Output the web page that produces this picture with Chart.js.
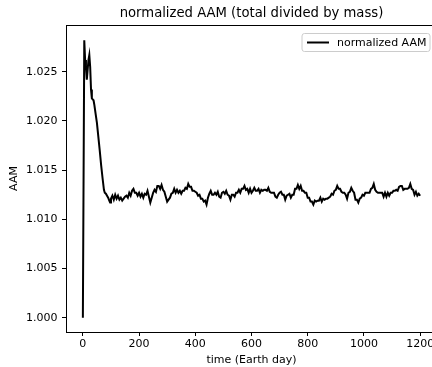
<!DOCTYPE html>
<html><head><meta charset="utf-8">
<script src="https://cdn.jsdelivr.net/npm/chart.js@4"></script>
<style>html,body{margin:0;padding:0;overflow:hidden;background:#fff;width:432px;height:367px}</style>
</head><body>
<canvas id="c" width="440" height="367" style="display:block;width:440px;height:367px"></canvas>
<script>
const chartTitle = 'normalized AAM (total divided by mass)';
const seriesLabel = 'normalized AAM';
const xAxisLabel = 'time (Earth day)';
const yAxisLabel = 'AAM';
const xTickValues = [0, 200, 400, 600, 800, 1000, 1200];
const yTickValues = [1.000, 1.005, 1.010, 1.015, 1.020, 1.025];

const days = [0,5,8,11,14,17,20,23,26,29,32,35,38,41,45,50,55,60,65,70,75,78,82,86,90,94,97,100,
105,110,115,120,125,130,135,140,145,150,155,160,165,170,175,180,185,190,195,200,
205,210,215,220,225,230,235,240,245,250,255,260,265,270,275,280,285,290,295,300,
305,310,315,320,325,330,335,340,345,350,355,360,365,370,375,380,385,390,395,400,
405,410,415,420,425,430,435,440,445,450,455,460,465,470,475,480,485,490,495,500,
505,510,515,520,525,530,535,540,545,550,555,560,565,570,575,580,585,590,595,600,
605,610,615,620,625,630,635,640,645,650,655,660,665,670,675,680,685,690,695,700,
705,710,715,720,725,730,735,740,745,750,755,760,765,770,775,780,785,790,795,800,
805,810,815,820,825,830,835,840,845,850,855,860,865,870,875,880,885,890,895,900,
905,910,915,920,925,930,935,940,945,950,955,960,965,970,975,980,985,990,995,1000,
1005,1010,1015,1020,1025,1030,1035,1040,1045,1050,1055,1060,1065,1070,1075,1080,1085,1090,1095,1100,
1105,1110,1115,1120,1125,1130,1135,1140,1145,1150,1155,1160,1165,1170,1175,1180,1185,1190,1195,1200];

const aam = [1.0000,1.0282,1.0262,1.0255,1.0242,1.0252,1.0262,1.0267,1.0255,1.0232,1.0223,1.0222,1.0221,1.0216,1.0208,1.0198,1.0184,1.0170,1.0155,1.0142,1.0130,1.0127,1.0126,1.0124,1.0122,1.0119,1.0117,1.0121,
1.0124,1.0120,1.0125,1.0121,1.0124,1.0120,1.0122,1.0119,1.0121,1.0123,1.0124,1.0122,1.0127,1.0124,1.0129,1.0131,1.0127,1.0127,1.0124,1.0127,
1.0123,1.0126,1.0122,1.0126,1.0125,1.0129,1.0123,1.0117,1.0122,1.0127,1.0130,1.0128,1.0134,1.0134,1.0131,1.0135,1.0130,1.0128,1.0123,1.0118,
1.0120,1.0122,1.0126,1.0127,1.0131,1.0127,1.0130,1.0127,1.0129,1.0126,1.0129,1.0129,1.0132,1.0131,1.0136,1.0133,1.0133,1.0129,1.0129,1.0128,
1.0127,1.0124,1.0125,1.0121,1.0121,1.0118,1.0119,1.0115,1.0122,1.0126,1.0129,1.0125,1.0125,1.0127,1.0125,1.0128,1.0123,1.0122,1.0127,1.0128,
1.0126,1.0129,1.0125,1.0124,1.0120,1.0125,1.0125,1.0123,1.0127,1.0127,1.0130,1.0127,1.0131,1.0131,1.0134,1.0130,1.0131,1.0127,1.0131,1.0127,
1.0129,1.0132,1.0129,1.0129,1.0131,1.0127,1.0130,1.0129,1.0130,1.0130,1.0129,1.0132,1.0128,1.0127,1.0127,1.0127,1.0123,1.0122,1.0125,1.0127,
1.0128,1.0125,1.0125,1.0120,1.0124,1.0125,1.0126,1.0122,1.0125,1.0125,1.0131,1.0131,1.0135,1.0131,1.0134,1.0129,1.0129,1.0127,1.0127,1.0122,
1.0122,1.0118,1.0118,1.0115,1.0119,1.0118,1.0119,1.0119,1.0122,1.0118,1.0121,1.0120,1.0121,1.0121,1.0122,1.0123,1.0126,1.0125,1.0129,1.0130,
1.0134,1.0131,1.0131,1.0128,1.0127,1.0127,1.0125,1.0121,1.0127,1.0128,1.0132,1.0129,1.0127,1.0120,1.0120,1.0117,1.0121,1.0122,1.0125,1.0124,
1.0127,1.0127,1.0127,1.0127,1.0131,1.0132,1.0136,1.0130,1.0128,1.0127,1.0127,1.0127,1.0127,1.0123,1.0127,1.0123,1.0127,1.0124,1.0127,1.0127,
1.0129,1.0129,1.0130,1.0129,1.0133,1.0134,1.0134,1.0130,1.0131,1.0131,1.0131,1.0132,1.0136,1.0131,1.0130,1.0125,1.0128,1.0124,1.0126,1.0124];

const FONT = 'DejaVu Sans';
const tickFont = {family: FONT, size: 11};

const frameTitleLegend = {
  id: 'frameTitleLegend',
  afterDraw(chart) {
    const {ctx, chartArea: a} = chart;
    ctx.save();
    ctx.strokeStyle = '#000';
    ctx.lineWidth = 1;
    ctx.beginPath();
    ctx.moveTo(a.left, a.top + 0.5);
    ctx.lineTo(a.right, a.top + 0.5);
    ctx.moveTo(a.right - 0.5, a.top);
    ctx.lineTo(a.right - 0.5, a.bottom);
    ctx.stroke();
    // title centred over the axes
    ctx.fillStyle = '#000';
    ctx.font = '13.2px "' + FONT + '"';
    ctx.textAlign = 'center';
    ctx.textBaseline = 'middle';
    ctx.fillText(chartTitle, (a.left + a.right) / 2, 14);
    // legend box
    const bx = 302, by = 33.5, bw = 128, bh = 18, r = 2.5;
    ctx.fillStyle = 'rgba(255,255,255,0.8)';
    ctx.strokeStyle = '#cccccc';
    ctx.beginPath();
    ctx.moveTo(bx + r, by);
    ctx.lineTo(bx + bw - r, by);
    ctx.arcTo(bx + bw, by, bx + bw, by + r, r);
    ctx.lineTo(bx + bw, by + bh - r);
    ctx.arcTo(bx + bw, by + bh, bx + bw - r, by + bh, r);
    ctx.lineTo(bx + r, by + bh);
    ctx.arcTo(bx, by + bh, bx, by + bh - r, r);
    ctx.lineTo(bx, by + r);
    ctx.arcTo(bx, by, bx + r, by, r);
    ctx.closePath();
    ctx.fill();
    ctx.stroke();
    const ds = chart.data.datasets[0];
    ctx.strokeStyle = ds.borderColor;
    ctx.lineWidth = ds.borderWidth;
    ctx.beginPath();
    ctx.moveTo(bx + 5, by + bh / 2);
    ctx.lineTo(bx + 27, by + bh / 2);
    ctx.stroke();
    ctx.fillStyle = '#000';
    ctx.font = '11px "' + FONT + '"';
    ctx.textBaseline = 'middle';
    ctx.textAlign = 'left';
    ctx.fillText(ds.label, bx + 35, by + bh / 2 + 0.5);
    ctx.restore();
  }
};

new Chart(document.getElementById('c'), {
  type: 'line',
  data: {
    datasets: [{
      label: seriesLabel,
      data: days.map((d, i) => ({x: d, y: aam[i]})),
      borderColor: '#000000',
      borderWidth: 2,
      pointRadius: 0,
      tension: 0,
      fill: false
    }]
  },
  options: {
    responsive: false,
    animation: false,
    devicePixelRatio: 1,
    layout: {padding: {left: 0, right: 3, top: 25, bottom: 0}},
    plugins: {
      legend: {display: false},
      tooltip: {enabled: false},
      title: {display: false}
    },
    scales: {
      x: {
        type: 'linear', min: -60, max: 1260,
        afterBuildTicks: s => { s.ticks = xTickValues.map(v => ({value: v})); },
        afterFit: s => { s.height = 35; },
        grid: {drawOnChartArea: false, drawTicks: true, tickLength: 4, color: '#000'},
        border: {color: '#000', width: 1},
        ticks: {font: tickFont, color: '#000', padding: 2, maxRotation: 0, autoSkip: false,
                callback: v => String(v)},
        title: {display: true, text: xAxisLabel, color: '#000', font: tickFont, padding: {top: 0, bottom: 0}}
      },
      y: {
        type: 'linear', min: 0.99855, max: 1.02975,
        afterBuildTicks: s => { s.ticks = yTickValues.map(v => ({value: v})); },
        afterFit: s => { s.width = 66; },
        grid: {drawOnChartArea: false, drawTicks: true, tickLength: 4, color: '#000'},
        border: {color: '#000', width: 1},
        ticks: {font: tickFont, color: '#000', padding: 4.5, autoSkip: false,
                callback: v => Number(v).toFixed(3)},
        title: {display: true, text: yAxisLabel, color: '#000', font: tickFont, padding: {top: 8, bottom: 0}}
      }
    }
  },
  plugins: [frameTitleLegend]
});
</script>
</body></html>
